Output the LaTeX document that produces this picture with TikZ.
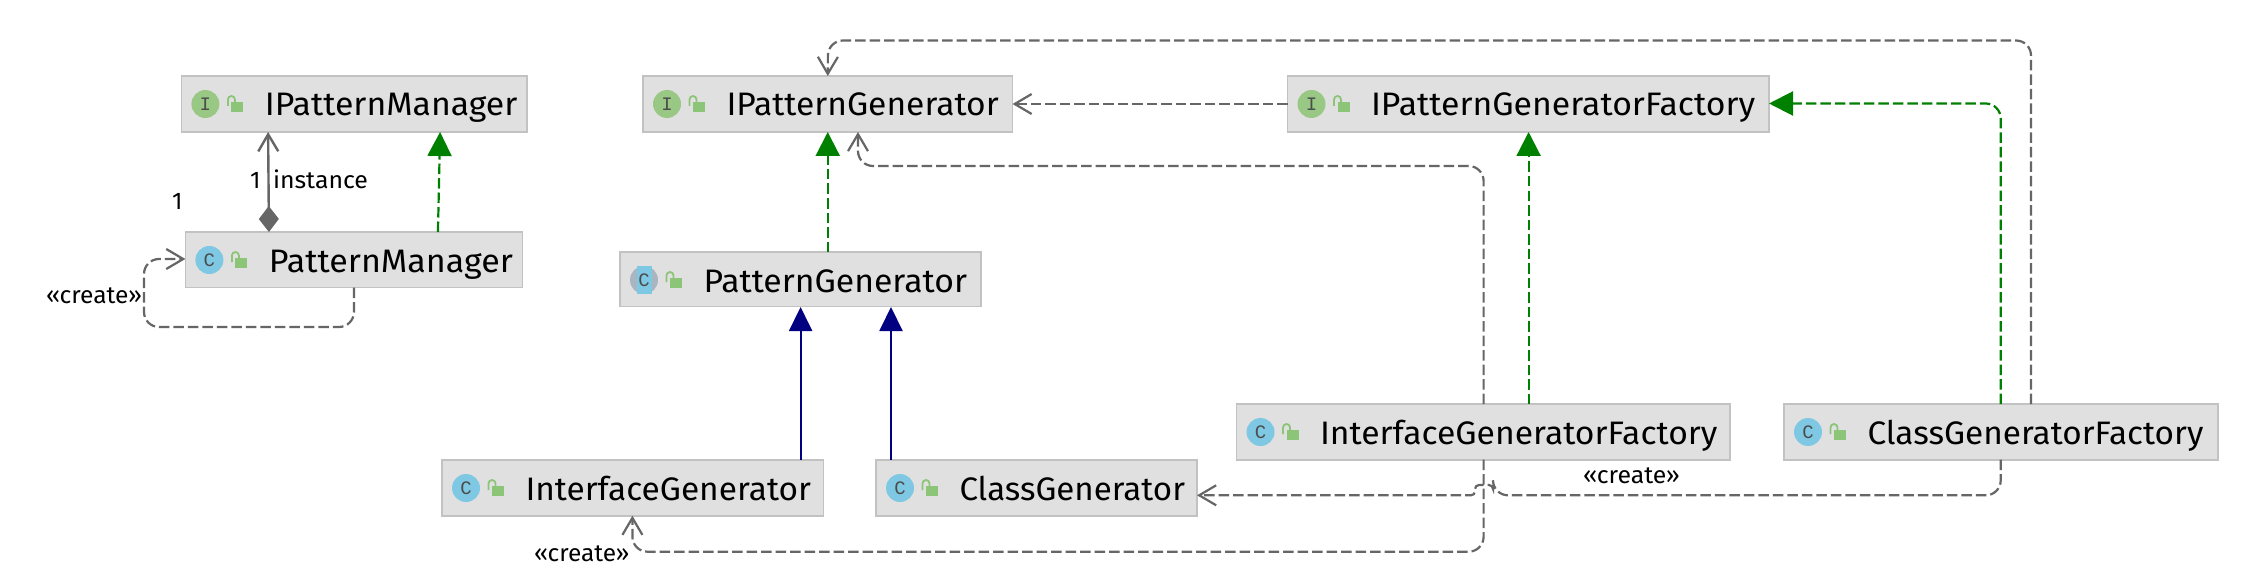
\documentclass[tikz,border=0pt]{standalone}
\usepackage{graphicx}
\usepackage{fontspec}
\setmainfont{Fira Sans}
\newfontfamily\iconfont{Liberation Mono}[BoldFont={Liberation Mono Bold}]
\usetikzlibrary{arrows.meta}
\definecolor{boxfill}{HTML}{E0E0E0}
\definecolor{boxline}{HTML}{C2C2C2}
\definecolor{iicon}{HTML}{98C884}
\definecolor{cicon}{HTML}{7EC8E3}
\definecolor{aicon}{HTML}{A9B5C0}
\definecolor{lockc}{HTML}{8CC478}
\definecolor{linec}{HTML}{666666}
\definecolor{greenc}{HTML}{008000}
\definecolor{bluec}{HTML}{000080}
\newsavebox\fitbox
\newcommand\fitw[2]{\sbox\fitbox{#2}\pgfmathsetmacro\fitr{#1/\wd\fitbox}\scalebox{\fitr}[1]{\usebox\fitbox}}
\tikzset{
  umlbox/.style={draw=boxline,fill=boxfill,line width=1.8pt,anchor=north west,inner sep=0pt,outer sep=0pt},
  umltext/.style={anchor=base west,inner sep=0pt,outer sep=0pt,font=\fontsize{32.5}{34}\selectfont,text=black},
  lbl/.style={anchor=base west,inner sep=0pt,outer sep=0pt,font=\fontsize{24}{26}\selectfont,text=black},
  iconletter/.style={inner sep=0pt,outer sep=0pt,font=\iconfont\fontsize{19}{19}\selectfont,text=black!70},
  dep/.style={draw=linec,line width=2.2pt,dash pattern=on 10.5pt off 4pt,rounded corners=15pt,-{Straight Barb[length=17pt,width=20pt]}},
  real/.style={draw=greenc,line width=2.2pt,dash pattern=on 10.5pt off 4pt,rounded corners=15pt,-{Triangle[length=24pt,width=24pt]}},
  ext/.style={draw=bluec,line width=2pt,-{Triangle[length=24pt,width=23pt]}},
  comp/.style={draw=linec,line width=2.4pt,{Diamond[length=26pt,width=20pt]}-{Straight Barb[length=17pt,width=20pt]}},
}
% name, x, y, w, h, kind, text width, text
\newcommand\umlbox[8]{%
  \node[umlbox,minimum width=#4pt,minimum height=#5pt] (#1) at (#2,#3) {};
  \coordinate (#1-ic) at (#2+24,#3+28);
  \ifx#6A
    \fill[aicon] (#1-ic) circle[radius=14pt];
    \fill[cicon] ([xshift=-7.5pt,yshift=-14pt]#1-ic) rectangle ([xshift=7.5pt,yshift=14pt]#1-ic);
    \node[iconletter] (#1-letter) at (#1-ic) {C};
  \else
    \ifx#6I
      \fill[iicon] (#1-ic) circle[radius=14pt];
    \else
      \fill[cicon] (#1-ic) circle[radius=14pt];
    \fi
    \node[iconletter] (#1-letter) at (#1-ic) {#6};
  \fi
  \fill[lockc] (#2+50,#3+26) rectangle (#2+62,#3+36);
  \draw[lockc,line width=1.8pt] (#2+46.5,#3+30) -- (#2+46.5,#3+23.5) arc[start angle=180,end angle=0,radius=3.5pt] -- (#2+53.5,#3+26);
  \node[umltext] (#1-t) at (#2+83.5,#3+40) {\fitw{#7}{#8}};
}
\begin{document}
\begin{tikzpicture}[x=1pt,y=-1pt]
\useasboundingbox (0,0) rectangle (2258,588);
\fill[white] (0,0) rectangle (2258,588);
% connectors drawn below the boxes
\coordinate (wPMa) at (354,327);
\coordinate (wPMb) at (144,327);
\coordinate (wPMc) at (144,259);
\coordinate (wTop) at (828,40.5);
\coordinate (wTopR) at (2031,40.5);
\coordinate (wIGFa) at (1483.6,166);
\coordinate (wIGFb) at (858,166);
\coordinate (wIGa) at (1483.6,551.7);
\coordinate (wIGb) at (632.4,551.7);
\coordinate (wCGa) at (2000.7,495.3);
\coordinate (wCGb) at (1493,495.3);
\coordinate (wCGc) at (1493,485);
\coordinate (wCGd) at (1475,485);
\coordinate (wCGe) at (1475,495.3);
\coordinate (wGFa) at (2000.7,103.5);
% boxes
\umlbox{ipm}{181.4}{76}{345.4}{56}{I}{252.5}{IPatternManager}
\umlbox{pm}{185.4}{232}{337.1}{55.5}{C}{244}{PatternManager}
\umlbox{ipg}{643}{76}{369.5}{56}{I}{272.2}{IPatternGenerator}
\umlbox{ipgf}{1287.5}{76}{481.5}{56}{I}{384.2}{IPatternGeneratorFactory}
\umlbox{pg}{620}{252}{361}{54.5}{A}{263.5}{PatternGenerator}
\umlbox{ig}{442}{460}{381.5}{55.7}{C}{285.5}{InterfaceGenerator}
\umlbox{cg}{876}{460}{321}{55.7}{C}{225.5}{ClassGenerator}
\umlbox{igf}{1236.5}{404}{493.5}{55.7}{C}{397.5}{InterfaceGeneratorFactory}
\umlbox{cgf}{1784}{404}{434}{55.7}{C}{335.9}{ClassGeneratorFactory}
% left group
\draw[comp] ([xshift=-85pt]pm.north) -- ([xshift=-86pt]ipm.south);
\draw[real] ([xshift=84pt]pm.north) -- ([xshift=86pt]ipm.south);
\draw[dep] (pm.south) -- (pm.south |- wPMa) -- (wPMb) -- (wPMc) -- (wPMc -| pm.west);
% generator hierarchy
\draw[real] (pg.north -| ipg.south) -- (ipg.south);
\draw[ext] (ig.north -| 800.6,460) -- (800.6,307);
\draw[ext] (cg.north -| 891,460) -- (891,307);
% factories
\draw[dep] (ipgf.west) -- (ipg.east);
\draw[real] (cgf.north -| wGFa) -- (wGFa) -- (wGFa -| ipgf.east);
\draw[real] (igf.north -| 1528.6,0) -- (ipgf.south -| 1528.6,0);
\draw[dep] (cgf.north -| wTopR) -- (wTopR) -- (wTop) -- (ipg.north);
\draw[dep] (igf.north -| wIGFa) -- (wIGFa) -- (wIGFb) -- (ipg.south -| wIGFb);
\draw[dep] (igf.south -| wIGa) -- (wIGa) -- (wIGb) -- (ig.south -| wIGb);
\draw[dep] (cgf.south -| wCGa) -- (wCGa) -- (wCGb) [rounded corners=4pt] -- (wCGc) -- (wCGd) -- (wCGe) [sharp corners] -- (cg.east |- wCGe);
% labels
\node[lbl] (l1a) at (250,189) {1};
\node[lbl] (linst) at (273,189) {\fitw{95}{instance}};
\node[lbl] (l1b) at (172,210) {1};
\node[lbl] (lc1) at (46,303) {\fitw{96}{«create»}};
\node[lbl] (lc2) at (534,561) {\fitw{95.5}{«create»}};
\node[lbl] (lc3) at (1583,483) {\fitw{97}{«create»}};
\end{tikzpicture}
\end{document}
